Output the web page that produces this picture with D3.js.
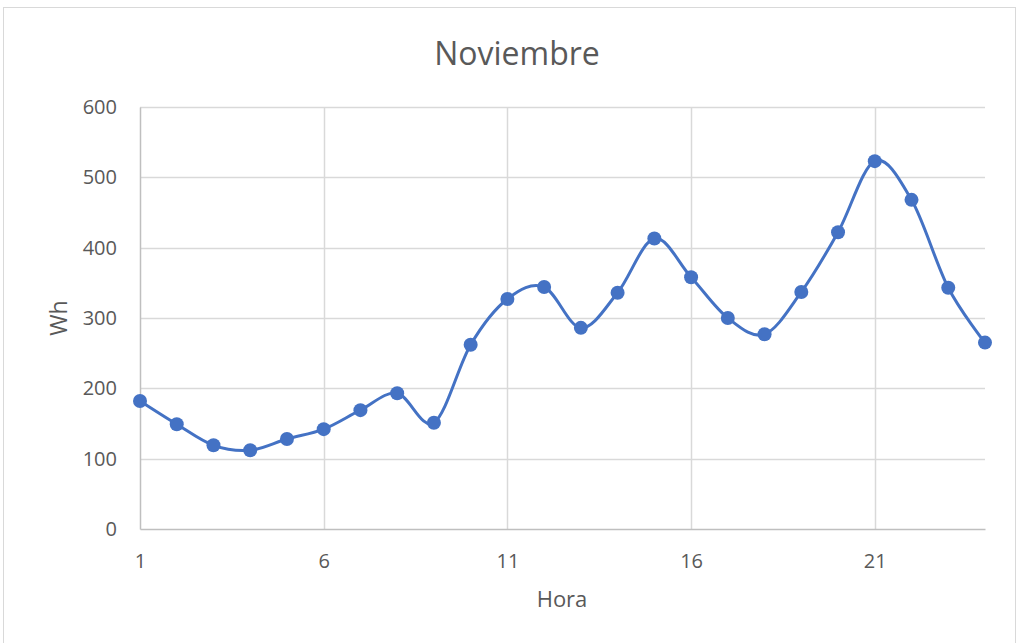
<!DOCTYPE html>
<html>
<head>
<meta charset="utf-8">
<script src="https://cdn.jsdelivr.net/npm/d3@7"></script>
<style>
  body { margin: 0; background: #fff; }
  text { font-family: "Open Sans", "Noto Sans", sans-serif; fill: #595959; }
</style>
</head>
<body>
<div id="chart"></div>
<script>
// data
const horas = d3.range(1, 25);
const wh = [182, 149, 119, 112, 128, 142, 169, 193, 151, 262, 327, 344,
            286, 336, 413, 358, 300, 277, 337, 422, 523, 468, 343, 265];
const yTicks = [0, 100, 200, 300, 400, 500, 600];
const xTicks = [1, 6, 11, 16, 21];

const W = 1016, H = 643;
let margin = {top: 107, right: 31, bottom: 114, left: 140},
    width = W - margin.left - margin.right,
    height = H - margin.top - margin.bottom;

let svg = d3.select("#chart")
  .append("svg")
    .attr("width", W)
    .attr("height", H);

// chart area border
svg.append("rect")
  .attr("x", 3.5).attr("y", 7.5)
  .attr("width", W - 4).attr("height", H - 6)
  .attr("fill", "none")
  .attr("stroke", "#d9d9d9");

let g = svg.append("g")
  .attr("transform", "translate(" + margin.left + "," + margin.top + ")");

let x = d3.scaleLinear().domain([1, 24]).range([0, width]);
let y = d3.scaleLinear().domain([0, 600]).range([height, 0]);

// gridlines
g.selectAll(".hgrid")
  .data(yTicks.filter(d => d > 0))
  .enter().append("line")
    .attr("x1", 0).attr("x2", width)
    .attr("y1", d => Math.round(y(d)) + 0.5).attr("y2", d => Math.round(y(d)) + 0.5)
    .attr("stroke", "#d9d9d9").attr("stroke-width", 1.5);

g.selectAll(".vgrid")
  .data(xTicks.filter(d => d > 1))
  .enter().append("line")
    .attr("x1", d => Math.round(x(d)) + 0.5).attr("x2", d => Math.round(x(d)) + 0.5)
    .attr("y1", 0).attr("y2", height)
    .attr("stroke", "#d9d9d9").attr("stroke-width", 1.5);

// axes
let xAxis = g.append("g")
  .attr("transform", "translate(0," + height + ")")
  .call(d3.axisBottom(x).tickValues(xTicks).tickSize(0).tickPadding(25));
xAxis.select(".domain").attr("stroke", "#bfbfbf").attr("stroke-width", 1.5);
xAxis.selectAll("text").style("font-size", "20px").attr("fill", "#595959");

let yAxis = g.append("g")
  .call(d3.axisLeft(y).tickValues(yTicks).tickSize(0).tickPadding(23));
yAxis.select(".domain").attr("stroke", "#bfbfbf").attr("stroke-width", 1.5);
yAxis.selectAll("text").style("font-size", "20px").attr("fill", "#595959");

// line
let line = d3.line()
  .x((d, i) => x(horas[i]))
  .y(d => y(d))
  .curve(d3.curveCatmullRom.alpha(0));

g.append("path")
  .datum(wh)
  .attr("fill", "none")
  .attr("stroke", "#4472c4")
  .attr("stroke-width", 3)
  .attr("d", line);

g.selectAll(".dot")
  .data(wh)
  .enter().append("circle")
    .attr("cx", (d, i) => x(horas[i]))
    .attr("cy", d => y(d))
    .attr("r", 7)
    .attr("fill", "#4472c4");

// titles
svg.append("text")
  .attr("x", 517).attr("y", 65)
  .attr("text-anchor", "middle")
  .style("font-size", "32px")
  .text("Noviembre");

svg.append("text")
  .attr("x", 562).attr("y", 607)
  .attr("text-anchor", "middle")
  .style("font-size", "22px")
  .text("Hora");

svg.append("text")
  .attr("transform", "translate(67,318) rotate(-90)")
  .attr("text-anchor", "middle")
  .style("font-size", "23px")
  .text("Wh");
</script>
</body>
</html>
